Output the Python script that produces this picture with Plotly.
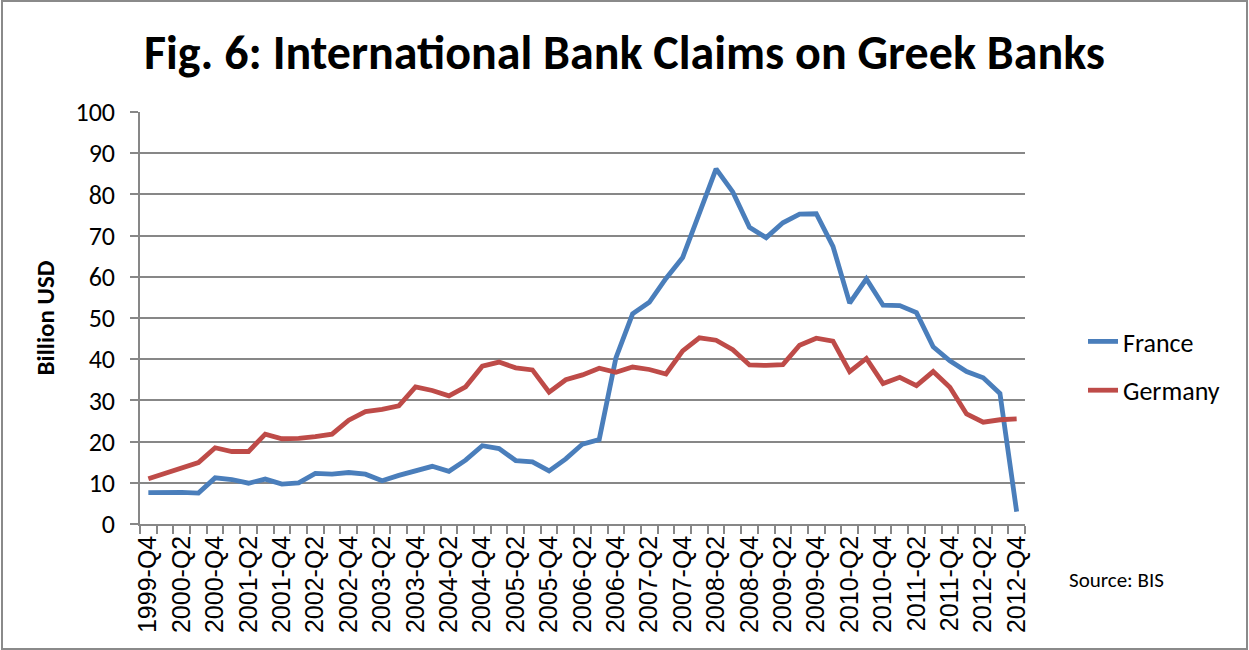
import plotly.graph_objects as go

# Quarterly observation labels
quarters = [
    "1999-Q4",
    "2000-Q1", "2000-Q2", "2000-Q3", "2000-Q4",
    "2001-Q1", "2001-Q2", "2001-Q3", "2001-Q4",
    "2002-Q1", "2002-Q2", "2002-Q3", "2002-Q4",
    "2003-Q1", "2003-Q2", "2003-Q3", "2003-Q4",
    "2004-Q1", "2004-Q2", "2004-Q3", "2004-Q4",
    "2005-Q1", "2005-Q2", "2005-Q3", "2005-Q4",
    "2006-Q1", "2006-Q2", "2006-Q3", "2006-Q4",
    "2007-Q1", "2007-Q2", "2007-Q3", "2007-Q4",
    "2008-Q1", "2008-Q2", "2008-Q3", "2008-Q4",
    "2009-Q1", "2009-Q2", "2009-Q3", "2009-Q4",
    "2010-Q1", "2010-Q2", "2010-Q3", "2010-Q4",
    "2011-Q1", "2011-Q2", "2011-Q3", "2011-Q4",
    "2012-Q1", "2012-Q2", "2012-Q3", "2012-Q4",
]

# Claims on Greek banks, billion USD
france = [
    7.6, 7.7, 7.7, 7.5, 11.2, 10.8, 9.9, 10.9, 9.7, 10.0,
    12.3, 12.1, 12.5, 12.1, 10.5, 11.8, 12.9, 14.0, 12.8, 15.5,
    19.0, 18.3, 15.4, 15.1, 12.9, 15.8, 19.4, 20.5, 40.3, 51.0,
    53.8, 59.6, 64.7, 75.8, 86.2, 80.6, 72.0, 69.5, 73.1, 75.2,
    75.3, 67.4, 53.6, 59.5, 53.1, 53.0, 51.3, 43.0, 39.6, 37.0,
    35.5, 31.7, 3.0,
]
germany = [
    11.0, 12.3, 13.5, 14.9, 18.5, 17.6, 17.6, 21.8, 20.7, 20.8,
    21.2, 21.8, 25.2, 27.3, 27.8, 28.7, 33.3, 32.4, 31.1, 33.3,
    38.3, 39.3, 37.9, 37.4, 32.0, 35.0, 36.2, 37.8, 36.8, 38.1,
    37.5, 36.4, 42.0, 45.2, 44.6, 42.3, 38.6, 38.5, 38.7, 43.4,
    45.1, 44.4, 37.0, 40.2, 34.1, 35.6, 33.6, 37.0, 33.2, 26.7,
    24.7, 25.3, 25.5,
]

# Only every second quarter gets a printed label
tick_text = [q if i % 2 == 0 else "" for i, q in enumerate(quarters)]

W, H = 1249, 650
ML, MR, MT, MB = 140, 224, 112, 126
CAL = "Carlito, Lato, 'Open Sans', sans-serif"
GRID = "#878787"

fig = go.Figure()
fig.add_trace(go.Scatter(
    x=quarters, y=france, name="France", mode="lines",
    line=dict(color="#4A7EBB", width=4.8), legendgroup="fr",
))
fig.add_trace(go.Scatter(
    x=quarters, y=germany, name="Germany", mode="lines",
    line=dict(color="#BE4B48", width=4.8), legendgroup="de",
))

pw = W - ML - MR
ph = H - MT - MB

fig.update_layout(
    width=W, height=H,
    margin=dict(l=ML, r=MR, t=MT, b=MB),
    paper_bgcolor="white", plot_bgcolor="white",
    title=dict(
        text="<b>Fig. 6: International Bank Claims on Greek Banks</b>",
        font=dict(family=CAL, size=48, color="black"),
        x=0.5, xanchor="center", xref="container",
        y=1 - 52 / H, yanchor="middle",
    ),
    xaxis=dict(
        type="category", range=[-0.5, len(quarters) - 0.5],
        tickmode="array", tickvals=quarters, ticktext=tick_text,
        tickson="boundaries", ticks="outside", ticklen=8, tickwidth=1.5,
        tickcolor=GRID, tickangle=-90,
        tickfont=dict(family="'Liberation Sans', Arial, sans-serif", size=25, color="black"),
        showline=True, linecolor=GRID, linewidth=1.5,
        showgrid=False, zeroline=False, fixedrange=True,
    ),
    yaxis=dict(
        range=[0, 100], dtick=10, tick0=0,
        ticks="outside", ticklen=8, tickwidth=1.5, tickcolor=GRID,
        ticklabelstandoff=10,
        tickfont=dict(family=CAL, size=26, color="black"),
        showgrid=True, gridcolor=GRID, gridwidth=1.5,
        showline=True, linecolor=GRID, linewidth=1.5,
        zeroline=False,
        title=dict(text="<b>Billion USD</b>", font=dict(family=CAL, size=25, color="black"), standoff=14),
    ),
    legend=dict(
        x=(1083 - ML) / pw, y=(MT + ph - 318) / ph,
        xanchor="left", yanchor="top",
        font=dict(family=CAL, size=26, color="black"),
        tracegroupgap=12, traceorder="grouped",
        bgcolor="rgba(0,0,0,0)",
    ),
    showlegend=True,
)

fig.add_annotation(
    text="Source: BIS", xref="paper", yref="paper",
    x=(1067 - ML) / pw, y=(MT + ph - 580) / ph,
    xanchor="left", yanchor="middle", showarrow=False,
    font=dict(family=CAL, size=21, color="black"),
)

# Thin grey frame round the whole chart area
fig.add_shape(
    type="rect", xref="paper", yref="paper",
    x0=(2 - ML) / pw, x1=(W - 2 - ML) / pw,
    y0=(MT + ph - (H - 1)) / ph, y1=(MT + ph - 1) / ph,
    line=dict(color="#8a8a8a", width=2), layer="below",
)

fig.write_html("out.html")
